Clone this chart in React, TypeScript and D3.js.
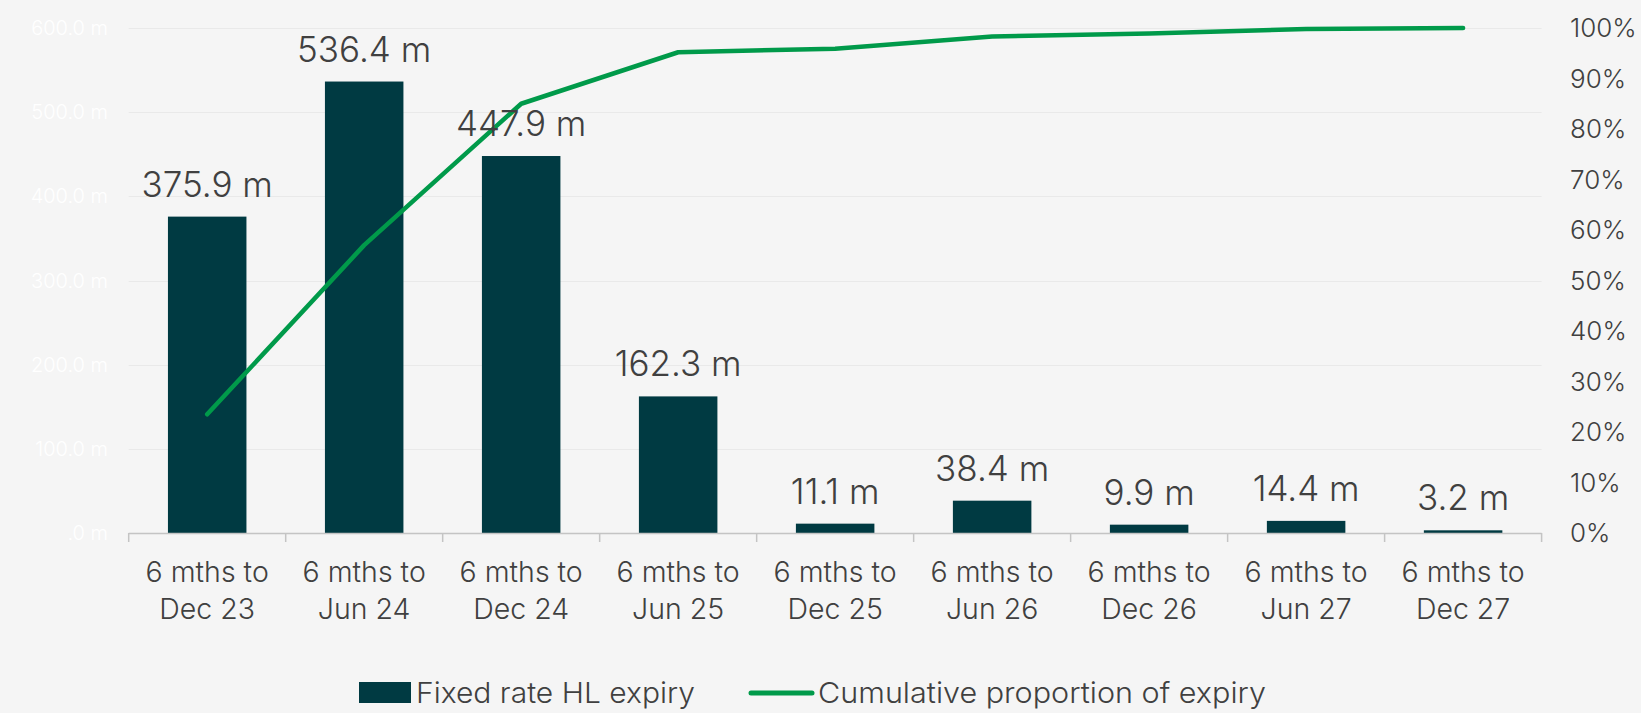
import React, { useEffect, useRef } from "react";
import * as d3 from "d3";

const categories: string[][] = [
  ["6 mths to", "Dec 23"],
  ["6 mths to", "Jun 24"],
  ["6 mths to", "Dec 24"],
  ["6 mths to", "Jun 25"],
  ["6 mths to", "Dec 25"],
  ["6 mths to", "Jun 26"],
  ["6 mths to", "Dec 26"],
  ["6 mths to", "Jun 27"],
  ["6 mths to", "Dec 27"],
];
const expiryValues: number[] = [375.9, 536.4, 447.9, 162.3, 11.1, 38.4, 9.9, 14.4, 3.2];
const cumulativePct: number[] = [23.5, 57.0, 85.0, 95.2, 95.9, 98.3, 98.9, 99.8, 100];
const leftTicks: number[] = [0, 100, 200, 300, 400, 500, 600];
const rightTicks: number[] = [0, 10, 20, 30, 40, 50, 60, 70, 80, 90, 100];
const seriesNames: string[] = ["Fixed rate HL expiry", "Cumulative proportion of expiry"];

const W = 1641;
const H = 713;
const BG = "#f5f5f5";
const BAR = "#003a42";
const LINE = "#009a4a";
const TEXT = "#404040";
const FONT = "Inter, Lato, sans-serif";
const WEIGHT = 300;

export default function App() {
  const ref = useRef<SVGSVGElement | null>(null);

  useEffect(() => {
    const svg = d3.select(ref.current);
    svg.selectAll("*").remove();

    const x0 = 128.7, x1 = 1541.6, yBottom = 533, yTop = 28;
    const idx = categories.map((_, i) => String(i));
    const x = d3.scaleBand<string>().domain(idx).range([x0, x1]).paddingInner(0).paddingOuter(0);
    const y = d3.scaleLinear().domain([0, 600]).range([yBottom, yTop]);
    const yR = d3.scaleLinear().domain([0, 100]).range([yBottom, yTop]);

    svg.append("rect").attr("x", 0).attr("y", 0).attr("width", W).attr("height", H).attr("fill", BG);

    // gridlines
    svg.append("g")
      .selectAll("line")
      .data(leftTicks.filter((t) => t > 0))
      .join("line")
      .attr("x1", x0)
      .attr("x2", x1)
      .attr("y1", (d) => Math.round(y(d)) + 0.5)
      .attr("y2", (d) => Math.round(y(d)) + 0.5)
      .attr("stroke", "#e9e9e9")
      .attr("stroke-width", 1);

    // left axis labels (white)
    svg.append("g")
      .selectAll("text")
      .data(leftTicks)
      .join("text")
      .attr("x", 108)
      .attr("y", (d) => y(d))
      .attr("dy", "0.35em")
      .attr("text-anchor", "end")
      .attr("font-family", FONT)
      .attr("font-weight", WEIGHT)
      .attr("font-size", 20)
      .attr("fill", "#ffffff")
      .text((d) => (d === 0 ? ".0 m" : d3.format(".1f")(d) + " m"));

    // right axis labels
    svg.append("g")
      .selectAll("text")
      .data(rightTicks)
      .join("text")
      .attr("x", 1570)
      .attr("y", (d) => yR(d))
      .attr("dy", "0.35em")
      .attr("text-anchor", "start")
      .attr("font-family", FONT)
      .attr("font-weight", WEIGHT)
      .attr("font-size", 26)
      .attr("fill", TEXT)
      .text((d) => d + "%");

    // bars
    const bw = x.bandwidth() * 0.5;
    svg.append("g")
      .selectAll("rect")
      .data(expiryValues)
      .join("rect")
      .attr("x", (_, i) => (x(String(i)) as number) + x.bandwidth() / 2 - bw / 2)
      .attr("y", (d) => y(d))
      .attr("width", bw)
      .attr("height", (d) => yBottom - y(d))
      .attr("fill", BAR);

    // x axis line and ticks
    const ax = svg.append("g");
    ax.append("line")
      .attr("x1", x0).attr("x2", x1)
      .attr("y1", yBottom + 0.5).attr("y2", yBottom + 0.5)
      .attr("stroke", "#c4c4c4").attr("stroke-width", 1.5);
    const edges = idx.map((k) => x(k) as number).concat([x1]);
    ax.selectAll("line.tick")
      .data(edges)
      .join("line")
      .attr("class", "tick")
      .attr("x1", (d) => d).attr("x2", (d) => d)
      .attr("y1", yBottom).attr("y2", yBottom + 9)
      .attr("stroke", "#c4c4c4").attr("stroke-width", 1.5);

    // x labels
    const xl = svg.append("g");
    categories.forEach((lines, i) => {
      const cx = (x(String(i)) as number) + x.bandwidth() / 2;
      lines.forEach((ln, j) => {
        xl.append("text")
          .attr("x", cx)
          .attr("y", 572 + j * 37)
          .attr("dy", "0.35em")
          .attr("text-anchor", "middle")
          .attr("font-family", FONT)
          .attr("font-weight", WEIGHT)
          .attr("font-size", 28.5)
          .attr("fill", TEXT)
          .text(ln);
      });
    });

    // line
    const lineGen = d3.line<number>()
      .x((_, i) => (x(String(i)) as number) + x.bandwidth() / 2)
      .y((d) => yR(d));
    svg.append("path")
      .datum(cumulativePct)
      .attr("d", lineGen)
      .attr("fill", "none")
      .attr("stroke", LINE)
      .attr("stroke-width", 4.5)
      .attr("stroke-linecap", "round")
      .attr("stroke-linejoin", "round");

    // data labels
    svg.append("g")
      .selectAll("text")
      .data(expiryValues)
      .join("text")
      .attr("x", (_, i) => (x(String(i)) as number) + x.bandwidth() / 2)
      .attr("y", (d) => y(d) - 20)
      .attr("text-anchor", "middle")
      .attr("font-family", FONT)
      .attr("font-weight", WEIGHT)
      .attr("font-size", 35)
      .attr("fill", TEXT)
      .text((d) => d3.format(".1f")(d) + " m");

    // legend
    const lg = svg.append("g");
    lg.append("rect").attr("x", 359).attr("y", 682).attr("width", 52).attr("height", 21).attr("fill", BAR);
    lg.append("text")
      .attr("x", 416).attr("y", 693).attr("dy", "0.35em")
      .attr("font-family", FONT).attr("font-weight", WEIGHT).attr("font-size", 29).attr("fill", TEXT)
      .attr("textLength", 279).attr("lengthAdjust", "spacingAndGlyphs")
      .text(seriesNames[0]);
    lg.append("line")
      .attr("x1", 751).attr("x2", 812).attr("y1", 693).attr("y2", 693)
      .attr("stroke", LINE).attr("stroke-width", 5).attr("stroke-linecap", "round");
    lg.append("text")
      .attr("x", 818).attr("y", 693).attr("dy", "0.35em")
      .attr("font-family", FONT).attr("font-weight", WEIGHT).attr("font-size", 29).attr("fill", TEXT)
      .attr("textLength", 448).attr("lengthAdjust", "spacingAndGlyphs")
      .text(seriesNames[1]);
  }, []);

  return (
    <svg
      ref={ref}
      width={W}
      height={H}
      style={{ position: "absolute", left: 0, top: 0, display: "block" }}
    />
  );
}
